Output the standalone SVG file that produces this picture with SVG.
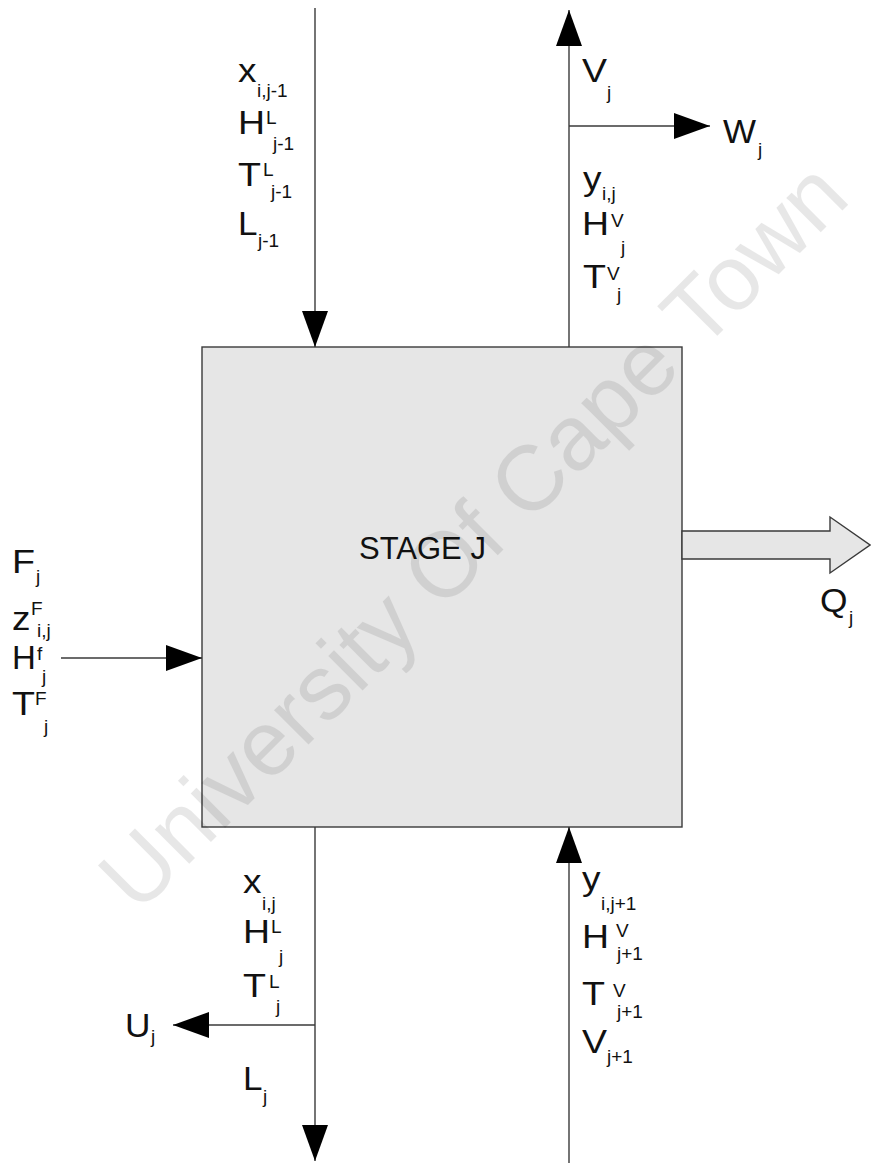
<svg xmlns="http://www.w3.org/2000/svg" width="871" height="1165" viewBox="0 0 871 1165">
<style>
.t{font-family:"Liberation Sans",Arial,sans-serif;fill:#111;}
.m{font-size:33px;}
.s{font-size:19px;}
.ln{stroke:#3a3a3a;stroke-width:1.4;fill:none;}
.wm{font-family:"Liberation Sans",Arial,sans-serif;font-size:92px;fill:#000;opacity:0.09;}
</style>
<defs>
<marker id="arr" viewBox="0 0 36 26" refX="36" refY="13" markerWidth="36" markerHeight="26" markerUnits="userSpaceOnUse" orient="auto">
<path d="M0,0 L36,13 L0,26 z" fill="#000"/>
</marker>
</defs>
<rect width="871" height="1165" fill="#fff"/>
<g id="stage">
<rect x="202" y="347" width="480" height="480" fill="#e6e6e6" stroke="#3a3a3a" stroke-width="1.4"/>
<text class="t" x="359" y="559" font-size="31">STAGE J</text>
</g>
<g id="connectors">
<path class="ln" d="M315,8 L315,347" marker-end="url(#arr)"/>
<path class="ln" d="M569,347 L569,10" marker-end="url(#arr)"/>
<path class="ln" d="M569,126 L710,126" marker-end="url(#arr)"/>
<path class="ln" d="M61,658 L202,658" marker-end="url(#arr)"/>
<path class="ln" d="M315,827 L315,1161" marker-end="url(#arr)"/>
<path class="ln" d="M315,1025 L173,1025" marker-end="url(#arr)"/>
<path class="ln" d="M569,1163 L569,827" marker-end="url(#arr)"/>
<polygon id="q-arrow" points="682,531 830,531 830,517 870,545 830,573 830,559 682,559" fill="#e6e6e6" stroke="#3a3a3a" stroke-width="1.4"/>
</g>
<g id="label-top-left" class="t">
<text class="m" x="238" y="82" textLength="18.5" lengthAdjust="spacingAndGlyphs">x</text><text class="s" x="257" y="97">i,j-1</text>
<text class="m" x="238" y="134" textLength="27" lengthAdjust="spacingAndGlyphs">H</text><text class="s" x="266" y="124">L</text><text class="s" x="273" y="150">j-1</text>
<text class="m" x="238" y="186" textLength="23" lengthAdjust="spacingAndGlyphs">T</text><text class="s" x="263" y="176">L</text><text class="s" x="271" y="198">j-1</text>
<text class="m" x="238" y="235" textLength="19.5" lengthAdjust="spacingAndGlyphs">L</text><text class="s" x="258" y="247">j-1</text>
</g>
<g id="label-top-right" class="t">
<text class="m" x="582" y="82" textLength="25" lengthAdjust="spacingAndGlyphs">V</text><text class="s" x="607" y="99">j</text>
<text class="m" x="723" y="143" textLength="33" lengthAdjust="spacingAndGlyphs">W</text><text class="s" x="758" y="156">j</text>
<text class="m" x="583" y="190" textLength="18.5" lengthAdjust="spacingAndGlyphs">y</text><text class="s" x="602" y="200">i,j</text>
<text class="m" x="582" y="235" textLength="27" lengthAdjust="spacingAndGlyphs">H</text><text class="s" x="611" y="227">V</text><text class="s" x="621" y="254">j</text>
<text class="m" x="583" y="288" textLength="23" lengthAdjust="spacingAndGlyphs">T</text><text class="s" x="607" y="280">V</text><text class="s" x="617" y="301">j</text>
</g>
<g id="label-left" class="t">
<text class="m" x="12" y="573" textLength="23" lengthAdjust="spacingAndGlyphs">F</text><text class="s" x="36" y="583">j</text>
<text class="m" x="12" y="630" textLength="18.5" lengthAdjust="spacingAndGlyphs">z</text><text class="s" x="31" y="615">F</text><text class="s" x="37" y="637">i,j</text>
<text class="m" x="12" y="669">H</text><text class="s" x="37" y="660">f</text><text class="s" x="42" y="683">j</text>
<text class="m" x="12" y="715" textLength="23" lengthAdjust="spacingAndGlyphs">T</text><text class="s" x="35" y="705">F</text><text class="s" x="44" y="733">j</text>
</g>
<g id="label-q" class="t">
<text class="m" x="820" y="612" textLength="27.5" lengthAdjust="spacingAndGlyphs">Q</text><text class="s" x="849" y="624">j</text>
</g>
<g id="label-bottom-left" class="t">
<text class="m" x="243" y="893" textLength="18.5" lengthAdjust="spacingAndGlyphs">x</text><text class="s" x="262" y="910">i,j</text>
<text class="m" x="243" y="943" textLength="27" lengthAdjust="spacingAndGlyphs">H</text><text class="s" x="271" y="933">L</text><text class="s" x="279" y="963">j</text>
<text class="m" x="243" y="997" textLength="23" lengthAdjust="spacingAndGlyphs">T</text><text class="s" x="269" y="988">L</text><text class="s" x="276" y="1013">j</text>
<text class="m" x="243" y="1090" textLength="19.5" lengthAdjust="spacingAndGlyphs">L</text><text class="s" x="263" y="1103">j</text>
<text class="m" x="125" y="1037" textLength="25.5" lengthAdjust="spacingAndGlyphs">U</text><text class="s" x="151" y="1043">j</text>
</g>
<g id="label-bottom-right" class="t">
<text class="m" x="582" y="890" textLength="18.5" lengthAdjust="spacingAndGlyphs">y</text><text class="s" x="601" y="910">i,j+1</text>
<text class="m" x="582" y="948" textLength="27" lengthAdjust="spacingAndGlyphs">H</text><text class="s" x="616" y="937">V</text><text class="s" x="617" y="960">j+1</text>
<text class="m" x="582" y="1005" textLength="23" lengthAdjust="spacingAndGlyphs">T</text><text class="s" x="613" y="997">V</text><text class="s" x="617" y="1018">j+1</text>
<text class="m" x="582" y="1053" textLength="25" lengthAdjust="spacingAndGlyphs">V</text><text class="s" x="607" y="1063">j+1</text>
</g>
<g id="watermark">
<text class="wm" x="495" y="558" text-anchor="middle" transform="rotate(-45 495 558)">University Of Cape Town</text>
</g>
</svg>
